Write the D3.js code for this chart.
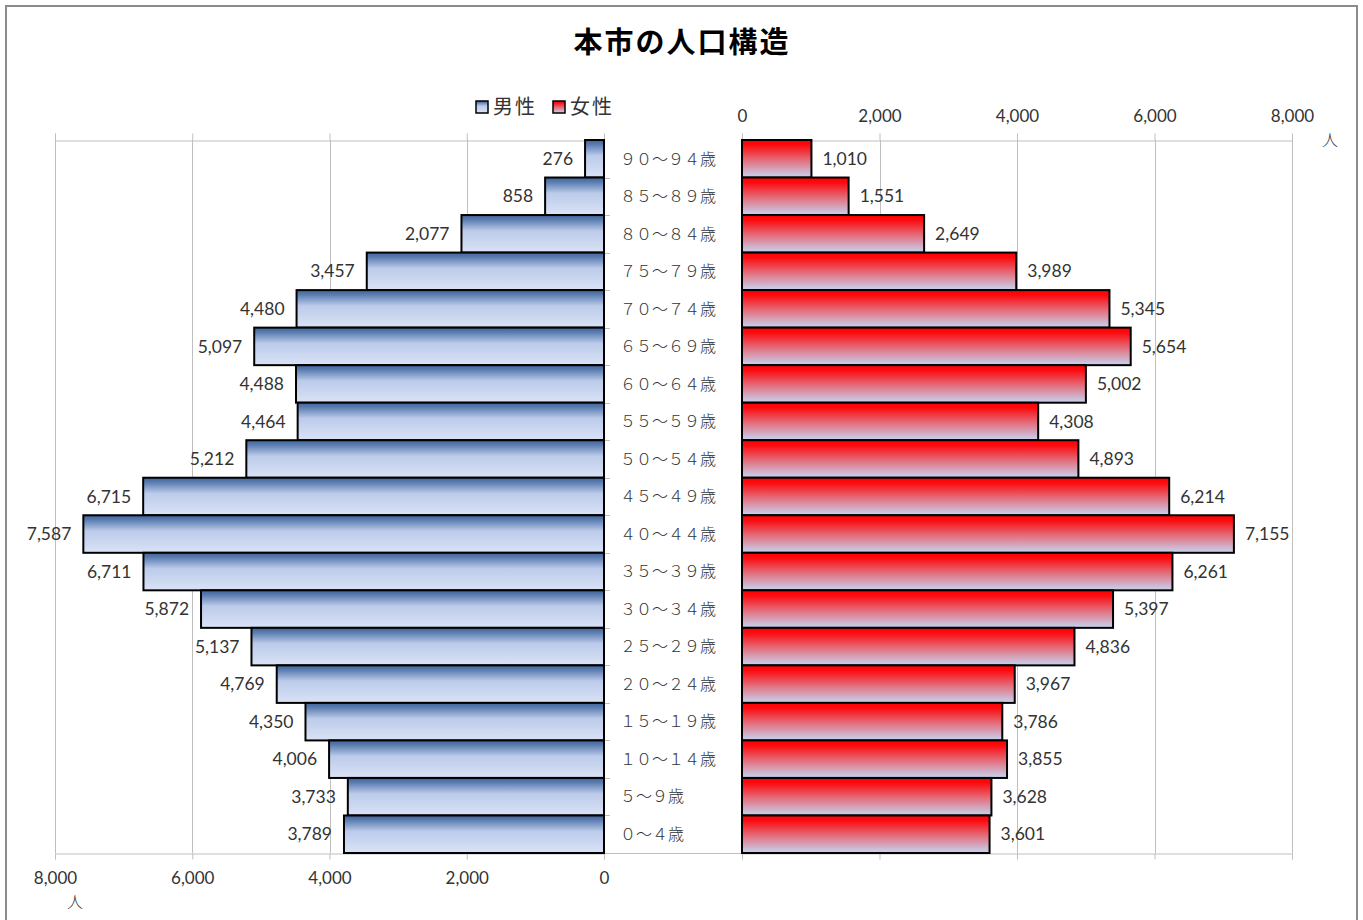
<!DOCTYPE html>
<html>
<head>
<meta charset="utf-8">
<script src="https://cdn.jsdelivr.net/npm/d3@7/dist/d3.min.js"></script>
<style>
  body { margin: 0; background: #fff; }
  svg { display: block; }
</style>
</head>
<body>
<div id="chart"></div>
<script>
// age groups, oldest first (top of the pyramid)
var ageGroups = ["９０～９４歳", "８５～８９歳", "８０～８４歳", "７５～７９歳", "７０～７４歳",
  "６５～６９歳", "６０～６４歳", "５５～５９歳", "５０～５４歳", "４５～４９歳", "４０～４４歳",
  "３５～３９歳", "３０～３４歳", "２５～２９歳", "２０～２４歳", "１５～１９歳", "１０～１４歳",
  "５～９歳", "０～４歳"];
var maleValues = [276, 858, 2077, 3457, 4480, 5097, 4488, 4464, 5212, 6715, 7587, 6711,
  5872, 5137, 4769, 4350, 4006, 3733, 3789];
var femaleValues = [1010, 1551, 2649, 3989, 5345, 5654, 5002, 4308, 4893, 6214, 7155, 6261,
  5397, 4836, 3967, 3786, 3855, 3628, 3601];
var tickValues = [0, 2000, 4000, 6000, 8000];
var seriesNames = ["男性", "女性"];
var titleText = "本市の人口構造";
var unitText = "人";

var width = 1363,
    height = 920,
    plotTop = 140,
    plotBottom = 853;

var numFont = "Lato, 'Open Sans', sans-serif",
    jpFont = "'Noto Sans CJK JP', sans-serif",
    textColor = "#333",
    gridColor = "#bfbfbf";

var formatNumber = d3.format(",d");

var xL = d3.scaleLinear().domain([0, 8000]).range([604, 55]);
var xR = d3.scaleLinear().domain([0, 8000]).range([742, 1292]);
var y = d3.scaleBand().domain(ageGroups).range([plotTop, plotBottom]).padding(0);

var svg = d3.select("#chart").append("svg")
    .attr("width", width)
    .attr("height", height);

var defs = svg.append("defs");

function gradient(id, stops) {
  var g = defs.append("linearGradient")
      .attr("id", id)
      .attr("x1", 0).attr("y1", 0)
      .attr("x2", 0).attr("y2", 1);
  stops.forEach(function(s) {
    g.append("stop").attr("offset", s[0]).attr("stop-color", s[1]);
  });
}
gradient("maleGrad", [["0%", "#3f6399"], ["12%", "#5a7cb0"], ["42%", "#bccbea"], ["100%", "#dae3f6"]]);
gradient("femaleGrad", [["0%", "#ff0000"], ["14%", "#fb0c10"], ["55%", "#e3707e"], ["100%", "#c6d5f3"]]);

// outer frame
svg.append("rect")
    .attr("x", 6).attr("y", 6)
    .attr("width", 1351).attr("height", 920)
    .attr("fill", "none")
    .attr("stroke", "#8c8c8c")
    .attr("stroke-width", 2);

// title
svg.append("text")
    .attr("x", 682).attr("y", 53)
    .attr("text-anchor", "middle")
    .style("font-family", jpFont)
    .style("font-size", "29px")
    .style("font-weight", "bold")
    .style("letter-spacing", "2px")
    .attr("fill", "#000")
    .text(titleText);

// gridlines
svg.append("g").selectAll("line")
    .data(tickValues)
    .enter().append("line")
    .attr("x1", function(d) { return Math.round(xL(d)) + 0.5; })
    .attr("x2", function(d) { return Math.round(xL(d)) + 0.5; })
    .attr("y1", plotTop).attr("y2", plotBottom)
    .attr("stroke", gridColor);
svg.append("g").selectAll("line")
    .data(tickValues)
    .enter().append("line")
    .attr("x1", function(d) { return Math.round(xR(d)) + 0.5; })
    .attr("x2", function(d) { return Math.round(xR(d)) + 0.5; })
    .attr("y1", plotTop).attr("y2", plotBottom)
    .attr("stroke", gridColor);

// axes: left panel labelled at the bottom, right panel at the top
function styleAxis(g) {
  g.select(".domain").attr("stroke", gridColor);
  g.selectAll(".tick line").attr("stroke", gridColor);
  g.selectAll(".tick text")
      .attr("fill", textColor)
      .style("font-family", numFont)
      .style("font-size", "17px");
}

svg.append("g")
    .attr("transform", "translate(0," + (plotBottom + 0.5) + ")")
    .call(d3.axisBottom(xL).tickValues(tickValues).tickFormat(formatNumber).tickSizeOuter(0).tickSize(6).tickPadding(12))
    .call(styleAxis);
svg.append("g")
    .attr("transform", "translate(0," + (plotTop + 0.5) + ")")
    .call(d3.axisTop(xL).tickValues(tickValues).tickFormat("").tickSizeOuter(0).tickSize(7))
    .call(styleAxis);
svg.append("g")
    .attr("transform", "translate(0," + (plotTop + 0.5) + ")")
    .call(d3.axisTop(xR).tickValues(tickValues).tickFormat(formatNumber).tickSizeOuter(0).tickSize(7).tickPadding(12))
    .call(styleAxis);
svg.append("g")
    .attr("transform", "translate(0," + (plotBottom + 0.5) + ")")
    .call(d3.axisBottom(xR).tickValues(tickValues).tickFormat("").tickSizeOuter(0).tickSize(6))
    .call(styleAxis);
// bottom line bridging the two panels
svg.append("line")
    .attr("x1", xL(0)).attr("x2", xR(0))
    .attr("y1", plotBottom + 0.5).attr("y2", plotBottom + 0.5)
    .attr("stroke", gridColor);

// category ticks at band edges
svg.append("g").selectAll("line")
    .data(ageGroups.slice(1))
    .enter().append("line")
    .attr("x1", xL(0)).attr("x2", xL(0) + 6)
    .attr("y1", function(d) { return Math.round(y(d)) + 0.5; })
    .attr("y2", function(d) { return Math.round(y(d)) + 0.5; })
    .attr("stroke", gridColor);

// male bars
svg.append("g").selectAll("rect")
    .data(maleValues)
    .enter().append("rect")
    .attr("x", function(d) { return xL(d); })
    .attr("y", function(d, i) { return y(ageGroups[i]); })
    .attr("width", function(d) { return xL(0) - xL(d); })
    .attr("height", y.bandwidth())
    .attr("fill", "url(#maleGrad)")
    .attr("stroke", "#000")
    .attr("stroke-width", 2);

// female bars
svg.append("g").selectAll("rect")
    .data(femaleValues)
    .enter().append("rect")
    .attr("x", xR(0))
    .attr("y", function(d, i) { return y(ageGroups[i]); })
    .attr("width", function(d) { return xR(d) - xR(0); })
    .attr("height", y.bandwidth())
    .attr("fill", "url(#femaleGrad)")
    .attr("stroke", "#000")
    .attr("stroke-width", 2);

// value labels
svg.append("g").selectAll("text")
    .data(maleValues)
    .enter().append("text")
    .attr("x", function(d) { return xL(d) - 12; })
    .attr("y", function(d, i) { return y(ageGroups[i]) + y.bandwidth() / 2; })
    .attr("dy", "0.35em")
    .attr("text-anchor", "end")
    .attr("fill", textColor)
    .style("font-family", numFont)
    .style("font-size", "17.5px")
    .text(formatNumber);
svg.append("g").selectAll("text")
    .data(femaleValues)
    .enter().append("text")
    .attr("x", function(d) { return xR(d) + 11; })
    .attr("y", function(d, i) { return y(ageGroups[i]) + y.bandwidth() / 2; })
    .attr("dy", "0.35em")
    .attr("fill", textColor)
    .style("font-family", numFont)
    .style("font-size", "17.5px")
    .text(formatNumber);

// age group labels between the panels
svg.append("g").selectAll("text")
    .data(ageGroups)
    .enter().append("text")
    .attr("x", 620)
    .attr("y", function(d) { return y(d) + y.bandwidth() / 2; })
    .attr("dy", "0.36em")
    .attr("fill", textColor)
    .style("font-family", jpFont)
    .style("font-size", "16px")
    .style("font-weight", 300)
    .text(function(d) { return d; });

// legend
var legend = svg.append("g").selectAll("g")
    .data(seriesNames)
    .enter().append("g")
    .attr("transform", function(d, i) { return "translate(" + (476 + i * 77) + ",101)"; });
legend.append("rect")
    .attr("width", 12).attr("height", 12)
    .attr("fill", function(d, i) { return i ? "url(#femaleGrad)" : "url(#maleGrad)"; })
    .attr("stroke", "#000")
    .attr("stroke-width", 1.5);
legend.append("text")
    .attr("x", 17).attr("y", 6)
    .attr("dy", "0.36em")
    .attr("fill", textColor)
    .style("font-family", jpFont)
    .style("font-size", "20px")
    .style("letter-spacing", "2px")
    .text(function(d) { return d; });

// unit labels
svg.append("text")
    .attr("x", 1330).attr("y", 140)
    .attr("dy", "0.36em")
    .attr("text-anchor", "middle")
    .attr("fill", textColor)
    .style("font-family", jpFont)
    .style("font-size", "16px")
    .style("font-weight", 300)
    .text(unitText);
svg.append("text")
    .attr("x", 75).attr("y", 902)
    .attr("dy", "0.36em")
    .attr("text-anchor", "middle")
    .attr("fill", textColor)
    .style("font-family", jpFont)
    .style("font-size", "16px")
    .style("font-weight", 300)
    .text(unitText);
</script>
</body>
</html>
